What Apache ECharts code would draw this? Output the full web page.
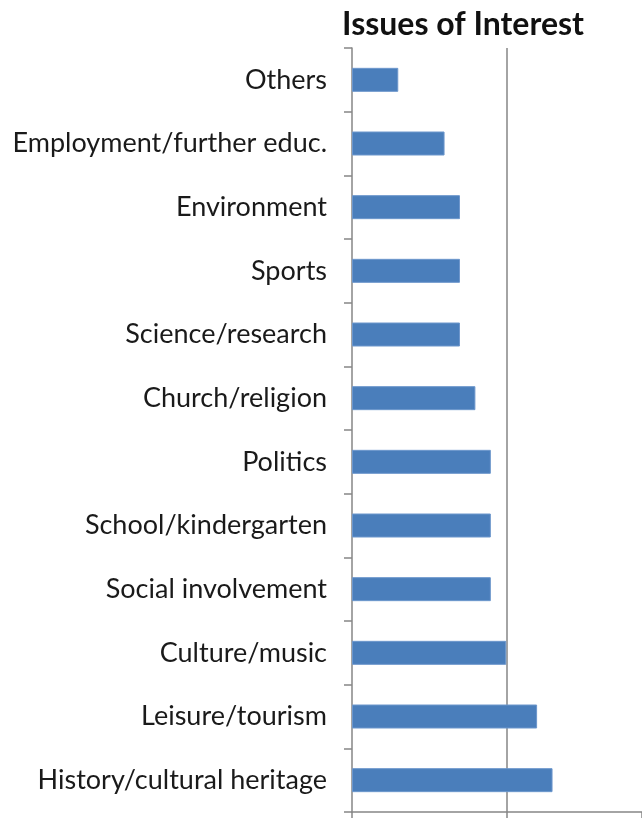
<!DOCTYPE html>
<html>
<head>
<meta charset="utf-8">
<script src="https://cdn.jsdelivr.net/npm/echarts@6/dist/echarts.min.js"></script>
<style>
  html, body { margin: 0; padding: 0; background: #fff; }
  #chart { width: 642px; height: 818px; }
</style>
</head>
<body>
<div id="chart"></div>
<script>
// categories listed top to bottom
const categories = [
  'Others',
  'Employment/further educ.',
  'Environment',
  'Sports',
  'Science/research',
  'Church/religion',
  'Politics',
  'School/kindergarten',
  'Social involvement',
  'Culture/music',
  'Leisure/tourism',
  'History/cultural heritage'
];
const counts = [3, 6, 7, 7, 7, 8, 9, 9, 9, 10, 12, 13];
// the original picture is cut off on the right, a bit before the 20 line
const xMin = 0;
const xMax = 18.8;

const chart = echarts.init(document.getElementById('chart'));
chart.setOption({
  animation: false,
  title: {
    text: 'Issues of Interest',
    left: 458,
    top: 4,
    textAlign: 'center',
    textStyle: {
      fontFamily: 'Lato',
      fontSize: 32,
      fontWeight: 'bold',
      color: '#111'
    }
  },
  grid: {
    left: 352,
    right: 0,
    top: 48,
    bottom: 6,
    containLabel: false
  },
  xAxis: {
    type: 'value',
    min: xMin,
    max: xMax,
    interval: 10,
    axisLine: { show: true, lineStyle: { color: '#868686', width: 1.5 } },
    axisTick: { show: true, length: 8, lineStyle: { color: '#868686', width: 1.5 } },
    axisLabel: { show: false },
    splitLine: {
      show: true,
      showMinLine: false,
      showMaxLine: false,
      lineStyle: { color: '#868686', width: 1.5 }
    }
  },
  yAxis: {
    type: 'category',
    inverse: true,
    data: categories,
    axisLine: { show: true, lineStyle: { color: '#868686', width: 1.5 } },
    axisTick: { show: true, length: 8, lineStyle: { color: '#868686', width: 1.5 } },
    axisLabel: {
      margin: 25,
      fontFamily: 'Lato',
      fontSize: 27,
      color: '#1a1a1a'
    }
  },
  series: [{
    type: 'bar',
    data: counts,
    barWidth: 24,
    itemStyle: {
      color: '#4a7ebb',
      borderColor: '#6d97cc',
      borderWidth: 1
    }
  }]
});
</script>
</body>
</html>
